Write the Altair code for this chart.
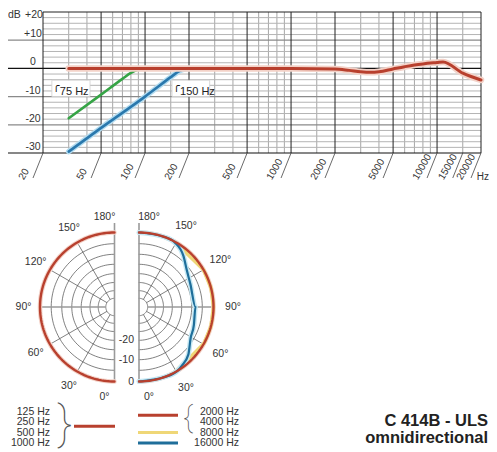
import altair as alt
import pandas as pd

# ---------------- data: frequency response ----------------
resp_f = [30, 100, 1000, 2000, 2500, 3000, 3500, 4000, 5000, 6000, 7000, 8000, 10000, 11000, 15000, 20000]
resp_db = [0, 0, 0, -0.2, -0.7, -1.2, -1.4, -1.2, -0.2, 0.6, 1.2, 1.6, 2.1, 2.3, -1.7, -4.1]
cut75_f = [30, 50, 70, 80, 90, 100]
cut75_db = [-17.7, -9.3, -3.7, -1.6, -0.4, 0]
cut150_f = [30, 50, 100, 150, 165, 180, 200]
cut150_db = [-29.5, -21.1, -10.0, -3.1, -1.5, -0.4, 0]

filter_box_lo = [23, 153]
filter_box_hi = [42, 277]
filter_labels = ["75 Hz", "150 Hz"]

grid_major_f = [20, 50, 100, 200, 500, 1000, 2000, 5000, 10000, 20000]
grid_minor_f = [30, 40, 60, 70, 80, 90, 150, 300, 400, 600, 700, 800, 900,
                1500, 3000, 4000, 6000, 7000, 8000, 9000, 15000]
tick_f = [20, 50, 100, 200, 500, 1000, 2000, 5000, 10000, 15000, 20000]
tick_labels = ["20", "50", "100", "200", "500", "1000", "2000", "5000", "10000", "15000", "20000"]
db_ticks = [10, 0, -10, -20, -30]
db_tick_labels = ["+10", "0", "-10", "-20", "-30"]
db_gray_major = [10, -10, -20]
db_black = [0, -30]
db_minor = [18, 16, 14, 12, 8, 6, 4, 2, -2, -4, -6, -8, -12, -14, -16, -18, -22, -24, -26, -28]

# ---------------- data: polar ----------------
ring_db = [-5, -10, -15, -20, -25, -30, -35]
spoke_deg = [30, 60, 120, 150]
angle_label_deg = [30, 60, 90, 120, 150]
angle_label_txt = ["30°", "60°", "90°", "120°", "150°"]
angle_end_deg = [0, 180]
angle_end_txt = ["0°", "180°"]
polar_db_ticks = [0, -10, -20]
polar_db_labels = ["0", "-10", "-20"]
omni_deg = list(range(0, 181, 2))
p8k_deg = [0, 10, 20, 28, 44, 61, 75, 90, 105, 120, 136, 153, 163, 172, 180]
p8k_db = [0, 0, 0, 0, -1.2, 0, 0, 0, 0, 0, -1.2, 0, 0, 0, 0]
p16k_deg = [0, 20, 31, 36, 46, 59, 72, 90, 114, 127, 139, 151, 160, 180]
p16k_db = [0, 0, 0, -0.8, -2.6, -6.4, -7.6, -8.2, -8.3, -6.5, -3.0, -0.3, 0, 0]

legend_low = ["125 Hz", "250 Hz", "500 Hz", "1000 Hz"]
legend_high = ["2000 Hz", "4000 Hz", "8000 Hz", "16000 Hz"]
title_lines = ["C 414B - ULS", "omnidirectional"]

# ---------------- styling ----------------
FONT = "Liberation Sans"
TXT = "#333333"
RED, RED_HALO = "#b8402e", "#f3d2c8"
BLUE, BLUE_HALO = "#2a78ad", "#b3dcf0"
PBLUE, PBLUE_HALO = "#1f6e9a", "#c6e8f3"
GREEN = "#36a446"
YELLOW = "#efd777"

FX = alt.Scale(type="log", domain=[20, 20000], range=[35, 473], nice=False)
FY = alt.Scale(domain=[-30, 20], range=[145, 4], nice=False, zero=False)
PY = alt.Scale(domain=[-100, 100], range=[399, 199], nice=False, zero=False)
ROW = alt.Scale(domain=[0, 3], range=[403.5, 435], nice=False, zero=False)


def PX(side):
    c = 106.5 if side < 0 else 131
    return alt.Scale(domain=[-100, 100], range=[c - 100, c + 100], nice=False, zero=False)


def rexpr(f):
    return f"74.5 + 2.3*datum.{f} + 0.012*datum.{f}*datum.{f}"


layers = []

# ---------- frequency response grid ----------
df_minor_f = pd.DataFrame({"f": grid_minor_f})
layers.append(alt.Chart(df_minor_f).mark_rule(color="#8f8f8f", strokeWidth=0.8).encode(
    x=alt.X("f:Q", scale=FX, axis=None),
    y=alt.YDatum(20, scale=FY, axis=None), y2=alt.Y2Datum(-30)))

df_minor_db = pd.DataFrame({"db": db_minor})
layers.append(alt.Chart(df_minor_db).mark_rule(color="#b4b4b4", strokeWidth=1).encode(
    y=alt.Y("db:Q", scale=FY, axis=None),
    x=alt.XDatum(20, scale=FX, axis=None), x2=alt.X2Datum(20000)))

df_gray = pd.DataFrame({"db": db_gray_major})
layers.append(alt.Chart(df_gray).mark_rule(color="#8a8a8a", strokeWidth=1.3).encode(
    y=alt.Y("db:Q", scale=FY, axis=None),
    x=alt.XDatum(20000, scale=FX, axis=None), x2=alt.value(0)))

df_major_f = pd.DataFrame({"f": grid_major_f})
layers.append(alt.Chart(df_major_f).mark_rule(color="#222222", strokeWidth=1).encode(
    x=alt.X("f:Q", scale=FX, axis=None),
    y=alt.YDatum(20, scale=FY, axis=None), y2=alt.Y2Datum(-30)))

layers.append(alt.Chart(pd.DataFrame({"db": [20]})).mark_rule(color="#222222", strokeWidth=1).encode(
    y=alt.Y("db:Q", scale=FY, axis=None),
    x=alt.XDatum(20, scale=FX, axis=None), x2=alt.X2Datum(20000)))

df_black = pd.DataFrame({"db": db_black})
layers.append(alt.Chart(df_black).mark_rule(color="#111111", strokeWidth=1.2).encode(
    y=alt.Y("db:Q", scale=FY, axis=None),
    x=alt.XDatum(20000, scale=FX, axis=None), x2=alt.value(0)))

# slashes + rotated tick labels
df_ticks = pd.DataFrame({"f": tick_f, "label": tick_labels})
layers.append(alt.Chart(df_ticks).mark_rule(color="#444444", strokeWidth=0.8, x2Offset=-10).encode(
    x=alt.X("f:Q", scale=FX, axis=None), x2=alt.X2("f:Q"),
    y=alt.value(145), y2=alt.value(170)))
layers.append(alt.Chart(df_ticks).mark_text(
    font=FONT, fontSize=10, color=TXT, angle=300, align="left", baseline="middle",
    dx=-33.5, dy=-6).encode(
    x=alt.X("f:Q", scale=FX, axis=None), y=alt.value(145), text="label:N"))

df_dbt = pd.DataFrame({"db": db_ticks, "label": db_tick_labels})
layers.append(alt.Chart(df_dbt).mark_text(
    font=FONT, fontSize=10.5, color=TXT, align="center", baseline="alphabetic", dy=-3).encode(
    y=alt.Y("db:Q", scale=FY, axis=None), x=alt.value(25), text="label:N"))
layers.append(alt.Chart(pd.DataFrame({"t": ["dB"]})).mark_text(
    font=FONT, fontSize=10.5, color=TXT, align="left", baseline="middle").encode(
    x=alt.value(0), y=alt.value(7), text="t:N"))
layers.append(alt.Chart(pd.DataFrame({"t": ["+20"]})).mark_text(
    font=FONT, fontSize=10.5, color=TXT, align="center", baseline="middle").encode(
    x=alt.value(26), y=alt.value(7), text="t:N"))
layers.append(alt.Chart(pd.DataFrame({"t": ["Hz"]})).mark_text(
    font=FONT, fontSize=10, color=TXT, align="right", baseline="middle").encode(
    x=alt.value(481), y=alt.value(169), text="t:N"))

# filter annotation boxes
df_box = pd.DataFrame({"lo": filter_box_lo, "hi": filter_box_hi, "label": filter_labels,
                       "sym": ["╭", "╭"]})
layers.append(alt.Chart(df_box).mark_rect(fill="white", stroke="#d0d0d0", strokeWidth=0.8).encode(
    x=alt.X("lo:Q", scale=FX, axis=None), x2="hi:Q",
    y=alt.YDatum(-4.2, scale=FY, axis=None), y2=alt.Y2Datum(-10.0)))
layers.append(alt.Chart(df_box).mark_text(
    font=FONT, fontSize=11, color="#222222", align="left", baseline="middle", dx=8).encode(
    x=alt.X("lo:Q", scale=FX, axis=None), y=alt.YDatum(-8.5, scale=FY, axis=None), text="label:N"))
layers.append(alt.Chart(df_box).mark_text(
    font="DejaVu Sans", fontSize=11, fontWeight="bold", color="#111111", align="left",
    baseline="middle", dx=1).encode(
    x=alt.X("lo:Q", scale=FX, axis=None), y=alt.YDatum(-6.2, scale=FY, axis=None), text="sym:N"))

# curves
df_c150 = pd.DataFrame({"f": cut150_f, "db": cut150_db})
df_c75 = pd.DataFrame({"f": cut75_f, "db": cut75_db})
df_resp = pd.DataFrame({"f": resp_f, "db": resp_db})
for df, col, w in [(df_c150, BLUE_HALO, 5.5), (df_c150, BLUE, 2.6), (df_c75, GREEN, 2.6),
                   (df_resp, RED_HALO, 6.5), (df_resp, RED, 3)]:
    layers.append(alt.Chart(df).mark_line(color=col, strokeWidth=w, interpolate="monotone",
                                          strokeCap="round").encode(
        x=alt.X("f:Q", scale=FX, axis=None), y=alt.Y("db:Q", scale=FY, axis=None),
        order=alt.Order("f:Q")))

# ---------- polar diagrams ----------
rows = []
for d in ring_db:
    for t in range(0, 181, 3):
        rows.append({"db": d, "theta": t})
df_rings = pd.DataFrame(rows)
df_spokes = pd.DataFrame({"theta": spoke_deg, "db_in": [ring_db[-1]] * len(spoke_deg),
                          "db_out": [0] * len(spoke_deg)})
df_h = pd.DataFrame({"theta": [90], "db_in": [ring_db[-1]], "db_out": [0]})
df_lab = pd.DataFrame({"theta": angle_label_deg, "label": angle_label_txt})
df_end = pd.DataFrame({"theta": angle_end_deg, "label": angle_end_txt})
df_omni = pd.DataFrame({"theta": omni_deg, "db": [0] * len(omni_deg)})
df_8k = pd.DataFrame({"theta": p8k_deg, "db": p8k_db})
df_16k = pd.DataFrame({"theta": p16k_deg, "db": p16k_db})
df_pdb = pd.DataFrame({"db": polar_db_ticks, "label": polar_db_labels})


def curve(df, side, color, width, detail=False, interp="linear"):
    enc = dict(x=alt.X("px:Q", scale=PX(side), axis=None),
               y=alt.Y("py:Q", scale=PY, axis=None),
               order=alt.Order("theta:Q"))
    if detail:
        enc["detail"] = alt.Detail("db:N")
    return alt.Chart(df).transform_calculate(r=rexpr("db")).transform_calculate(
        px=f"{side}*datum.r*sin(datum.theta*PI/180)",
        py="-datum.r*cos(datum.theta*PI/180)").mark_line(
        color=color, strokeWidth=width, strokeCap="round", strokeJoin="round",
        interpolate=interp).encode(**enc)


def spokes(df, side, color, width):
    return alt.Chart(df).transform_calculate(
        r1=rexpr("db_in"), r2=rexpr("db_out")).transform_calculate(
        x1=f"{side}*datum.r1*sin(datum.theta*PI/180)",
        y1="-datum.r1*cos(datum.theta*PI/180)",
        x2=f"{side}*datum.r2*sin(datum.theta*PI/180)",
        y2="-datum.r2*cos(datum.theta*PI/180)").mark_rule(color=color, strokeWidth=width).encode(
        x=alt.X("x1:Q", scale=PX(side), axis=None), y=alt.Y("y1:Q", scale=PY, axis=None),
        x2="x2:Q", y2="y2:Q")


for side, rl in [(-1, 91), (1, 94)]:
    layers.append(curve(df_rings, side, "#4a4a4a", 0.7, detail=True))
    layers.append(spokes(df_spokes, side, "#4a4a4a", 0.7))
    layers.append(spokes(df_h, side, "#9a9a9a", 1.6))
    layers.append(alt.Chart(pd.DataFrame({"a": [0]})).mark_rule(color="#9a9a9a", strokeWidth=1.6).encode(
        x=alt.XDatum(0, scale=PX(side), axis=None),
        y=alt.YDatum(84, scale=PY, axis=None), y2=alt.Y2Datum(-75)))
    layers.append(alt.Chart(df_lab).transform_calculate(
        lx=f"{side}*{rl}*sin(datum.theta*PI/180)",
        ly=f"-{rl}*cos(datum.theta*PI/180)").mark_text(
        font=FONT, fontSize=10.5, color=TXT, align="center", baseline="middle").encode(
        x=alt.X("lx:Q", scale=PX(side), axis=None), y=alt.Y("ly:Q", scale=PY, axis=None),
        text="label:N"))
    layers.append(alt.Chart(df_end).transform_calculate(
        ly="-90*cos(datum.theta*PI/180)").mark_text(
        font=FONT, fontSize=10.5, color=TXT, align="center", baseline="middle", dx=side * 10).encode(
        x=alt.XDatum(0, scale=PX(side), axis=None), y=alt.Y("ly:Q", scale=PY, axis=None),
        text="label:N"))
    layers.append(curve(df_omni, side, RED_HALO, 4.5))
    if side > 0:
        layers.append(alt.Chart(df_pdb).transform_calculate(r=rexpr("db")).transform_calculate(
            ly="-datum.r").mark_text(
            font=FONT, fontSize=10.5, color=TXT, align="right", baseline="middle", dx=-5).encode(
            x=alt.XDatum(0, scale=PX(side), axis=None), y=alt.Y("ly:Q", scale=PY, axis=None),
            text="label:N"))
        layers.append(curve(df_8k, side, YELLOW, 3.5))
        layers.append(curve(df_16k, side, PBLUE_HALO, 5, interp="monotone"))
        layers.append(curve(df_16k, side, PBLUE, 2.2, interp="monotone"))
    layers.append(curve(df_omni, side, RED, 2.4))

# ---------- legend ----------
df_low = pd.DataFrame({"row": [0, 1, 2, 3], "label": legend_low})
df_high = pd.DataFrame({"row": [0, 1, 2, 3], "label": legend_high})
layers.append(alt.Chart(df_low).mark_text(font=FONT, fontSize=10.5, color=TXT, align="right",
                                          baseline="middle").encode(
    x=alt.value(42), y=alt.Y("row:Q", scale=ROW, axis=None), text="label:N"))
layers.append(alt.Chart(df_high).mark_text(font=FONT, fontSize=10.5, color=TXT, align="right",
                                           baseline="middle").encode(
    x=alt.value(231), y=alt.Y("row:Q", scale=ROW, axis=None), text="label:N"))

for rowv, x0, x1, col in [(1.4, 66, 107, RED), (0.35, 130, 170, RED), (2, 130, 170, YELLOW),
                          (3, 130, 170, PBLUE)]:
    layers.append(alt.Chart(pd.DataFrame({"row": [rowv]})).mark_rule(
        color=col, strokeWidth=3).encode(
        x=alt.value(x0), x2=alt.value(x1), y=alt.Y("row:Q", scale=ROW, axis=None)))

layers.append(alt.Chart(pd.DataFrame({"t": ["}"]})).mark_text(
    font="Roboto", fontWeight=100, fontSize=46, color="#555555", align="center",
    baseline="middle").encode(x=alt.value(57), y=alt.value(417), text="t:N"))
layers.append(alt.Chart(pd.DataFrame({"t": ["{"]})).mark_text(
    font="Roboto", fontWeight=100, fontSize=30, color="#555555", align="center",
    baseline="middle").encode(x=alt.value(180), y=alt.value(410), text="t:N"))

layers.append(alt.Chart(pd.DataFrame({"row": [0, 1], "t": title_lines})).mark_text(
    font=FONT, fontWeight="bold", fontSize=16.5, color="#222222", align="right",
    baseline="alphabetic").encode(
    x=alt.value(480), y=alt.Y("row:Q", scale=alt.Scale(domain=[0, 1], range=[418, 435], nice=False,
                                                         zero=False), axis=None),
    text="t:N"))

chart = alt.layer(*layers).resolve_scale(x="independent", y="independent").properties(
    width=481, height=444, padding=0,
    autosize=alt.AutoSizeParams(type="none"), background="white"
).configure_view(stroke=None)

chart.save("out.html", embed_options={"renderer": "svg", "actions": False})
